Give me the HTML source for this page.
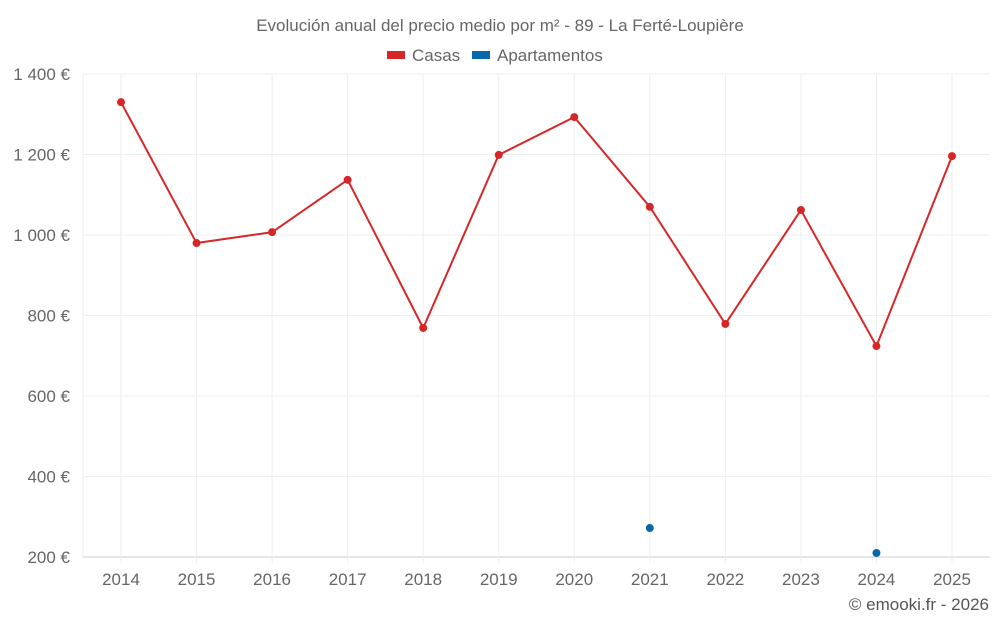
<!DOCTYPE html>
<html><head><meta charset="utf-8">
<style>
body{margin:0;background:#fff;font-family:"Liberation Sans",Roboto,sans-serif;}
svg text{font-family:"Liberation Sans",sans-serif;}
</style></head>
<body>
<svg id="chart" width="1000" height="625" xmlns="http://www.w3.org/2000/svg">
<text x="500" y="31" text-anchor="middle" font-size="17" fill="#666">Evolución anual del precio medio por m² - 89 - La Ferté-Loupière</text>
<g>
<g><rect x="387" y="51" width="18" height="8" fill="#d62728"/><text x="412" y="61" font-size="17" fill="#666">Casas</text></g>
<g><rect x="472" y="51" width="18" height="8" fill="#0868ac"/><text x="497" y="61" font-size="17" fill="#666">Apartamentos</text></g>
</g>
<g id="grid"></g><g id="axes"></g><g id="series"></g>
<text x="989" y="610" text-anchor="end" font-size="17" fill="#555">© emooki.fr - 2026</text>
</svg>
<script>
const years=["2014","2015","2016","2017","2018","2019","2020","2021","2022","2023","2024","2025"];
const casas=[1330,980,1007,1137,769,1199,1293,1070,779,1062,724,1196];
const apartamentos=[null,null,null,null,null,null,null,272,null,null,210,null];
const yTicks=[200,400,600,800,1000,1200,1400];
const yTickLabels=["200 €","400 €","600 €","800 €","1 000 €","1 200 €","1 400 €"];
const NS="http://www.w3.org/2000/svg";
const L=83,R=990,T=74,B=557,yMin=200,yMax=1400;
const x=i=>121+i*(952-121)/(years.length-1);
const y=v=>B-(v-yMin)/(yMax-yMin)*(B-T);
function mk(tag,attrs,parent){const e=document.createElementNS(NS,tag);for(const k in attrs)e.setAttribute(k,attrs[k]);document.getElementById(parent).appendChild(e);return e;}
yTicks.forEach((t,i)=>{
 const g=mk('line',{x1:L,x2:R,y1:y(t),y2:y(t),stroke:t===yMin?'#ccc':'#eee'},'grid');
 
 
 const tx=mk('text',{x:70,y:y(t)+6,'text-anchor':'end','font-size':17,fill:'#666'},'axes');
 tx.textContent=yTickLabels[i];
 
 
});
mk('line',{x1:L,x2:L,y1:T,y2:B,stroke:'#eee'},'grid');
years.forEach((yr,i)=>{
 const g=mk('line',{x1:x(i),x2:x(i),y1:T,y2:B+6,stroke:'#eee'},'grid');
 
 
 const tx=mk('text',{x:x(i),y:585,'text-anchor':'middle','font-size':17,fill:'#666'},'axes');
 tx.textContent=yr;
 
 
});
const pts=casas.map((v,i)=>x(i)+','+y(v)).join(' ');
const pl=mk('polyline',{points:pts,fill:'none',stroke:'#d62728','stroke-width':2},'series');


casas.forEach((v,i)=>{
 const c=mk('circle',{cx:x(i),cy:y(v),r:4,fill:'#d62728'},'series');
 
 
});
apartamentos.forEach((v,i)=>{
 if(v==null)return;
 const c=mk('circle',{cx:x(i),cy:y(v),r:4,fill:'#0868ac'},'series');
 
 
});
</script>
</body></html>
